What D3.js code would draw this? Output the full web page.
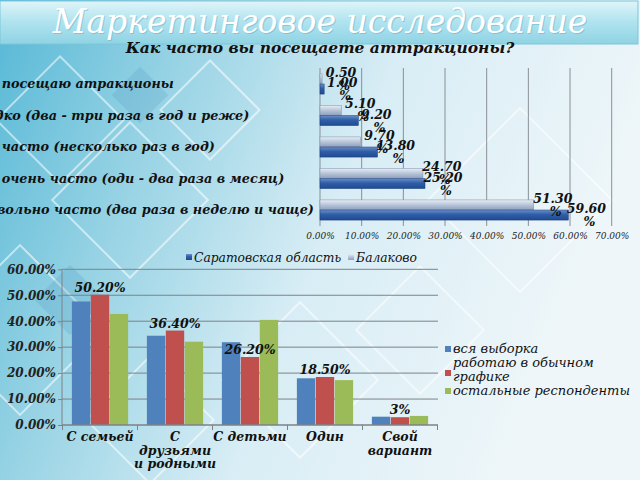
<!DOCTYPE html>
<html><head><meta charset="utf-8">
<script src="https://cdn.jsdelivr.net/npm/d3@7"></script>
<style>
html,body{margin:0;padding:0;overflow:hidden;background:#fff}
svg{display:block}
text{font-family:"DejaVu Serif",serif;font-style:italic}
</style></head><body>
<script>
// ---------- DATA ----------
const mainTitle = "Маркетинговое исследование";
const topTitle = "Как часто вы посещаете аттракционы?";
const topCategories = [
  "Не посещаю атракционы",
  "Редко (два - три раза в год и реже)",
  "Не часто (несколько раз в год)",
  "Не очень часто (оди - два раза в месяц)",
  "Довольно часто (два раза в неделю и чаще)"
];
const topSeries = ["Саратовская область", "Балаково"];
const saratovValues = [0.010, 0.092, 0.138, 0.252, 0.596];
const balakovoValues = [0.005, 0.051, 0.097, 0.247, 0.513];
const topTicks = [0, 0.1, 0.2, 0.3, 0.4, 0.5, 0.6, 0.7];

const botCategories = ["С семьей", "С друзьями и родными", "С детьми", "Один", "Свой вариант"];
const botCategoryLines = [["С семьей"], ["С", "друзьями", "и родными"], ["С детьми"], ["Один"], ["Свой", "вариант"]];
const botSeries = ["вся выборка", "работаю в обычном графике", "остальные респонденты"];
const allValues = [0.476, 0.344, 0.319, 0.180, 0.032];
const workValues = [0.502, 0.364, 0.262, 0.185, 0.03];
const otherValues = [0.428, 0.321, 0.405, 0.173, 0.035];
const workLabels = ["50.20%", "36.40%", "26.20%", "18.50%", "3%"];
const botTicks = [0, 0.1, 0.2, 0.3, 0.4, 0.5, 0.6];

// ---------- SVG ----------
const W = 640, H = 480;
const svg = d3.select("body").append("svg").attr("width", W).attr("height", H);
const defs = svg.append("defs");

const bg = defs.append("linearGradient").attr("id", "bg").attr("x1", 0).attr("y1", 0).attr("x2", 1).attr("y2", 0.3);
[["0%", "#56b8d6"], ["30%", "#9ad4e5"], ["60%", "#d8edf5"], ["100%", "#eef6f9"]].forEach(([o, c]) => bg.append("stop").attr("offset", o).attr("stop-color", c));
const hdr = defs.append("linearGradient").attr("id", "hdr").attr("x1", 0).attr("y1", 0).attr("x2", 0).attr("y2", 1);
[["0%", "#dff5f9"], ["45%", "#b3e4ef"], ["100%", "#8fd3e4"]].forEach(([o, c]) => hdr.append("stop").attr("offset", o).attr("stop-color", c));
const darkG = defs.append("linearGradient").attr("id", "darkBar").attr("x1", 0).attr("y1", 0).attr("x2", 0).attr("y2", 1);
[["0%", "#6d8fc8"], ["45%", "#2f5ea8"], ["100%", "#1f4a90"]].forEach(([o, c]) => darkG.append("stop").attr("offset", o).attr("stop-color", c));
const lightG = defs.append("linearGradient").attr("id", "lightBar").attr("x1", 0).attr("y1", 0).attr("x2", 0).attr("y2", 1);
[["0%", "#e8edf4"], ["50%", "#b7c4d8"], ["100%", "#8c9fbd"]].forEach(([o, c]) => lightG.append("stop").attr("offset", o).attr("stop-color", c));

svg.append("rect").attr("width", W).attr("height", H).attr("fill", "url(#bg)");

// decorative diamonds
const deco = svg.append("g").attr("fill", "none").attr("stroke", "#ffffff").attr("stroke-opacity", 0.55).attr("stroke-width", 2);
[[60, 120, 90], [130, 200, 110], [20, 330, 120], [210, 110, 70], [150, 420, 90], [520, 200, 130], [420, 330, 90], [300, 380, 110]].forEach(([cx, cy, s]) => {
  deco.append("rect").attr("x", cx - s / 2).attr("y", cy - s / 2).attr("width", s).attr("height", s)
    .attr("transform", `rotate(45 ${cx} ${cy})`);
});
const decoFill = svg.append("g").attr("fill", "#3f88b8").attr("fill-opacity", 0.18);
[[140, 95, 40], [70, 300, 50]].forEach(([cx, cy, s]) => {
  decoFill.append("rect").attr("x", cx - s / 2).attr("y", cy - s / 2).attr("width", s).attr("height", s)
    .attr("transform", `rotate(45 ${cx} ${cy})`);
});

// header band
svg.append("rect").attr("x", 0).attr("y", 1).attr("width", 638).attr("height", 43)
  .attr("fill", "url(#hdr)").attr("stroke", "#7cc6d8").attr("stroke-width", 1);
svg.append("text").attr("x", 321).attr("y", 34).attr("text-anchor", "middle")
  .attr("font-size", 33).attr("fill", "#6aaec4").attr("opacity", 0.5).text(mainTitle);
svg.append("text").attr("x", 320).attr("y", 33).attr("text-anchor", "middle")
  .attr("font-size", 33).attr("fill", "#ffffff").text(mainTitle);

// ---------- TOP CHART ----------
svg.append("text").attr("x", 320).attr("y", 53).attr("text-anchor", "middle")
  .attr("font-size", 15.5).attr("font-weight", "bold").attr("fill", "#111").text(topTitle);

const xT = d3.scaleLinear().domain([0, 0.7]).range([320, 611.7]);
const yT = d3.scaleBand().domain(topCategories).range([68.25, 225.75]).paddingInner(0.36).paddingOuter(0.18);
const subT = d3.scaleBand().domain(["Балаково", "Саратовская область"]).range([0, yT.bandwidth()]);

const gT = svg.append("g");
gT.append("g").selectAll("line").data(topTicks).join("line")
  .attr("x1", d => xT(d)).attr("x2", d => xT(d)).attr("y1", 68).attr("y2", 226)
  .attr("stroke", "#8a8f96").attr("stroke-width", 1);
const axT = d3.axisBottom(xT).tickValues(topTicks).tickFormat(d3.format(".2%")).tickSize(0).tickPadding(7);
const axTg = gT.append("g").attr("transform", "translate(0,226)").call(axT);
axTg.select(".domain").remove();
axTg.selectAll("text").attr("font-size", 9).attr("fill", "#222").style("font-family", "DejaVu Serif").style("font-style", "italic");

gT.append("g").selectAll("text").data(topCategories).join("text")
  .attr("x", -23).attr("y", d => yT(d) + yT.bandwidth() / 2 + 4)
  .attr("font-size", 12.8).attr("font-weight", "bold").attr("fill", "#111").text(d => d);

const topRows = topCategories.map((c, i) => ({ c, s: saratovValues[i], b: balakovoValues[i] }));
gT.append("g").selectAll("rect").data(topRows).join("rect")
  .attr("x", xT(0)).attr("y", d => yT(d.c) + subT("Балаково"))
  .attr("width", d => xT(d.b) - xT(0)).attr("height", subT.bandwidth())
  .attr("fill", "url(#lightBar)").attr("stroke", "#7d8fab").attr("stroke-width", 0.5);
gT.append("g").selectAll("rect").data(topRows).join("rect")
  .attr("x", xT(0)).attr("y", d => yT(d.c) + subT("Саратовская область"))
  .attr("width", d => xT(d.s) - xT(0)).attr("height", subT.bandwidth())
  .attr("fill", "url(#darkBar)").attr("stroke", "#1d3f7a").attr("stroke-width", 0.5);

function topLabel(g, v, cx, cy) {
  const t = g.append("text").attr("text-anchor", "middle").attr("font-size", 12.5).attr("font-weight", "bold").attr("fill", "#111");
  t.append("tspan").attr("x", cx).attr("y", cy - 2).text(d3.format(".2f")(v * 100));
  t.append("tspan").attr("x", cx + 3).attr("y", cy + 11).text("%");
}
const gL = gT.append("g");
topRows.forEach(d => {
  topLabel(gL, d.b, xT(d.b) + 19, yT(d.c) + subT("Балаково") + subT.bandwidth() / 2);
  topLabel(gL, d.s, xT(d.s) + 18, yT(d.c) + subT("Саратовская область") + subT.bandwidth() / 2);
});

// top legend
const legT = svg.append("g");
const legFills = ["url(#darkBar)", "url(#lightBar)"];
let lx = 186;
topSeries.forEach((s, i) => {
  legT.append("rect").attr("x", lx).attr("y", 254).attr("width", 6).attr("height", 6).attr("fill", legFills[i]);
  const t = legT.append("text").attr("x", lx + 8).attr("y", 262).attr("font-size", 12.3).attr("fill", "#111").text(s);
  lx += 8 + t.node().getComputedTextLength() + 7;
});

// ---------- BOTTOM CHART ----------
const colors = ["#4f81bd", "#c0504d", "#9bbb59"];
const xB = d3.scaleBand().domain(botCategories).range([62.5, 437.5]).paddingInner(0.25).paddingOuter(0.125);
const subB = d3.scaleBand().domain(botSeries).range([0, xB.bandwidth()]).paddingInner(0.03);
const yB = d3.scaleLinear().domain([0, 0.6]).range([425, 269.3]);

const gB = svg.append("g");
gB.append("g").selectAll("line").data(botTicks.slice(1)).join("line")
  .attr("x1", 62).attr("x2", 438).attr("y1", d => yB(d)).attr("y2", d => yB(d))
  .attr("stroke", "#7c8288").attr("stroke-width", 1);
gB.append("line").attr("x1", 62).attr("x2", 62).attr("y1", yB(0.6)).attr("y2", yB(0)).attr("stroke", "#7c8288");

const axB = d3.axisLeft(yB).tickValues(botTicks).tickFormat(d3.format(".2%")).tickSize(4).tickPadding(2);
const axBg = gB.append("g").attr("transform", "translate(62,0)").call(axB);
axBg.select(".domain").remove();
axBg.selectAll("line").attr("stroke", "#7c8288");
axBg.selectAll("text").attr("font-size", 12).attr("font-weight", "bold").attr("fill", "#222")
  .style("font-family", "DejaVu Serif").style("font-style", "italic");

const botRows = botCategories.map((c, i) => ({ c, v: [allValues[i], workValues[i], otherValues[i]] }));
const groups = gB.append("g").selectAll("g").data(botRows).join("g").attr("transform", d => `translate(${xB(d.c)},0)`);
groups.selectAll("rect").data(d => d.v.map((v, k) => ({ v, k }))).join("rect")
  .attr("x", d => subB(botSeries[d.k])).attr("width", subB.bandwidth())
  .attr("y", d => yB(d.v)).attr("height", d => yB(0) - yB(d.v))
  .attr("fill", d => colors[d.k]);

// x axis line and ticks
gB.append("line").attr("x1", 62).attr("x2", 438).attr("y1", yB(0)).attr("y2", yB(0)).attr("stroke", "#7c8288").attr("stroke-width", 1.5);
const bounds = botCategories.map(c => xB(c) - xB.step() * xB.paddingInner() / 2).concat([437.5]);
gB.append("g").selectAll("line").data(bounds).join("line")
  .attr("x1", d => d).attr("x2", d => d).attr("y1", yB(0)).attr("y2", yB(0) + 5).attr("stroke", "#7c8288");

// category labels
botCategories.forEach((c, i) => {
  const t = gB.append("text").attr("text-anchor", "middle").attr("font-size", 12.5).attr("font-weight", "bold").attr("fill", "#111");
  botCategoryLines[i].forEach((ln, j) => {
    t.append("tspan").attr("x", xB(c) + xB.bandwidth() / 2).attr("y", 441 + j * 13.5).text(ln);
  });
});

// data labels for red series
gB.append("g").selectAll("text").data(botRows).join("text")
  .attr("x", d => xB(d.c) + subB(botSeries[1]) + subB.bandwidth() / 2)
  .attr("y", (d, i) => yB(workValues[i]) - 3)
  .attr("text-anchor", "middle").attr("font-size", 12.5).attr("font-weight", "bold").attr("fill", "#111")
  .text((d, i) => workLabels[i]);

// bottom legend
const legB = svg.append("g");
const legLines = [[["вся выборка"], 353], [["работаю в обычном", "графике"], 367], [["остальные респонденты"], 395]];
legLines.forEach(([lines, y], i) => {
  const sqY = lines.length > 1 ? y + 3 : y - 7;
  legB.append("rect").attr("x", 445).attr("y", sqY).attr("width", 6).attr("height", 6).attr("fill", colors[i]);
  const t = legB.append("text").attr("font-size", 13).attr("fill", "#111");
  lines.forEach((ln, j) => t.append("tspan").attr("x", 453).attr("y", y + j * 14).text(ln));
});
</script>
</body></html>
